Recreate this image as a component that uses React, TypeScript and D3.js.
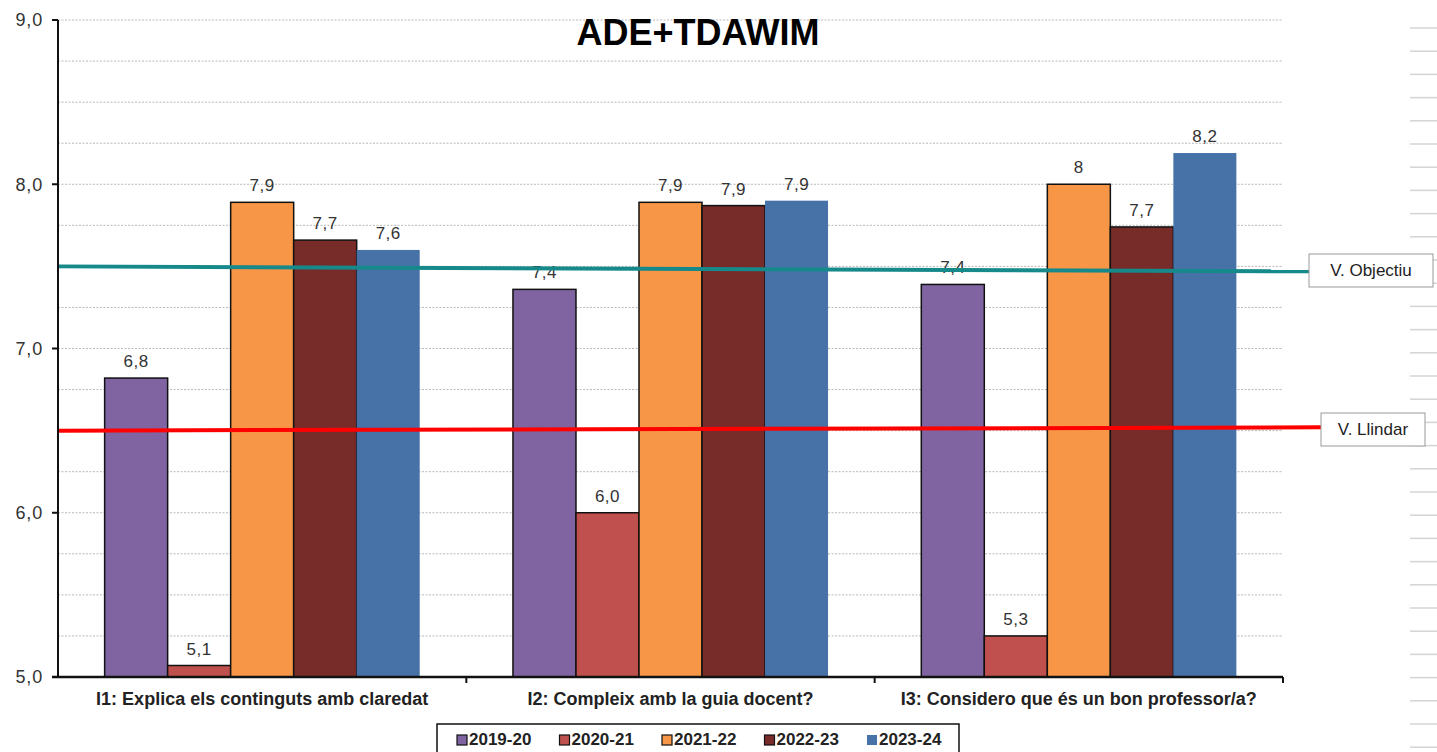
import React from "react";
import * as d3 from "d3";

const categories = [
  "I1: Explica els continguts amb claredat",
  "I2: Compleix amb la guia docent?",
  "I3: Considero que és un bon professor/a?",
];
const seriesNames = ["2019-20", "2020-21", "2021-22", "2022-23", "2023-24"];
const seriesColors = ["#8064A2", "#C0504D", "#F79646", "#772C2A", "#4672A8"];
const seriesBorder = [true, true, true, true, false];
const values2019 = [6.82, 7.36, 7.39];
const values2020 = [5.07, 6.0, 5.25];
const values2021 = [7.89, 7.89, 8.0];
const values2022 = [7.66, 7.87, 7.74];
const values2023 = [7.6, 7.9, 8.19];
const labels2019 = ["6,8", "7,4", "7,4"];
const labels2020 = ["5,1", "6,0", "5,3"];
const labels2021 = ["7,9", "7,9", "8"];
const labels2022 = ["7,7", "7,9", "7,7"];
const labels2023 = ["7,6", "7,9", "8,2"];
const yTicks = [5, 6, 7, 8, 9];
const objectiveLine = [7.5, 7.47];
const thresholdLine = [6.5, 6.52];
const objectiveLabel = "V. Objectiu";
const thresholdLabel = "V. Llindar";
const title = "ADE+TDAWIM";

const W = 1437;
const H = 752;
const FONT = "'Liberation Sans', Arial, sans-serif";

export default function App() {
  const values = [values2019, values2020, values2021, values2022, values2023];
  const labels = [labels2019, labels2020, labels2021, labels2022, labels2023];
  const left = 58, right = 1283, top = 20, bottom = 677;
  const y = d3.scaleLinear().domain([5, 9]).range([bottom, top]);
  const x0 = d3.scaleBand<string>().domain(categories).range([left, right]).padding(0);
  const x1 = d3
    .scaleBand<string>()
    .domain(seriesNames)
    .range([0, x0.bandwidth()])
    .paddingInner(0)
    .paddingOuter(0.74);
  const minor = d3.range(5.25, 9.001, 0.25);
  const fmt = d3.format(".1f");
  const decoY = d3.range(28, H, 23.2);

  const objBoxX = 1309, llBoxX = 1321;

  return (
    <svg
      width={W}
      height={H}
      style={{ position: "absolute", left: 0, top: 0, background: "#fff" }}
      fontFamily={FONT}
    >
      <rect x={0} y={0} width={W} height={H} fill="#fff" />
      {decoY.map((d, i) => (
        <line key={"dc" + i} x1={1410} x2={1437} y1={d} y2={d} stroke="#d4d4d4" strokeWidth={1.5} />
      ))}
      {minor.map((v, i) => (
        <line
          key={"g" + i}
          x1={left}
          x2={right}
          y1={y(v)}
          y2={y(v)}
          stroke="#b8b8b8"
          strokeWidth={1}
          strokeDasharray="2,1.5"
        />
      ))}
      {categories.map((c, ci) => (
        <g key={c} transform={`translate(${x0(c)},0)`}>
          {seriesNames.map((s, si) => {
            const v = values[si][ci];
            const bx = x1(s)!;
            return (
              <g key={s}>
                <rect
                  x={bx}
                  y={y(v)}
                  width={x1.bandwidth()}
                  height={bottom - y(v)}
                  fill={seriesColors[si]}
                  stroke={seriesBorder[si] ? "#111" : "none"}
                  strokeWidth={1.5}
                />
                <text
                  x={bx + x1.bandwidth() / 2}
                  y={y(v) - 11}
                  textAnchor="middle"
                  fontSize={17}
                  letterSpacing={0.5}
                  fill="#333"
                >
                  {labels[si][ci]}
                </text>
              </g>
            );
          })}
        </g>
      ))}
      <line x1={left} x2={objBoxX} y1={y(objectiveLine[0])} y2={y(objectiveLine[1])} stroke="#16898A" strokeWidth={4} />
      <line x1={left} x2={llBoxX} y1={y(thresholdLine[0])} y2={y(thresholdLine[1])} stroke="#FF0000" strokeWidth={4} />
      <rect x={objBoxX} y={254} width={124} height={33} fill="#fff" stroke="#999" strokeWidth={1} />
      <text x={objBoxX + 62} y={276} textAnchor="middle" fontSize={17} fill="#222">
        {objectiveLabel}
      </text>
      <rect x={llBoxX} y={413} width={104} height={33} fill="#fff" stroke="#999" strokeWidth={1} />
      <text x={llBoxX + 52} y={435} textAnchor="middle" fontSize={17} fill="#222">
        {thresholdLabel}
      </text>
      <line x1={left} x2={left} y1={top} y2={bottom} stroke="#111" strokeWidth={2} />
      {yTicks.map((t) => (
        <g key={"t" + t}>
          <line x1={left - 6} x2={left} y1={y(t)} y2={y(t)} stroke="#111" strokeWidth={2} />
          <text
            x={43}
            y={y(t)}
            dy="0.35em"
            textAnchor="end"
            fontSize={18}
            letterSpacing={0.8}
            fill="#333"
          >
            {fmt(t).replace(".", ",")}
          </text>
        </g>
      ))}
      <line x1={left - 6} x2={right} y1={bottom} y2={bottom} stroke="#111" strokeWidth={2.5} />
      {categories.map((c) => (
        <line
          key={"xt" + c}
          x1={x0(c)! + x0.bandwidth()}
          x2={x0(c)! + x0.bandwidth()}
          y1={bottom}
          y2={bottom + 6}
          stroke="#111"
          strokeWidth={2}
        />
      ))}
      {categories.map((c) => (
        <text
          key={"xl" + c}
          x={x0(c)! + x0.bandwidth() / 2}
          y={705}
          textAnchor="middle"
          fontSize={18}
          fontWeight="bold"
          fill="#222"
        >
          {c}
        </text>
      ))}
      <text x={698} y={45} textAnchor="middle" fontSize={36} fontWeight="bold" fill="#000">
        {title}
      </text>
      <rect x={437} y={724} width={522} height={40} fill="#fff" stroke="#111" strokeWidth={1.5} />
      {seriesNames.map((s, i) => {
        const lx = 457 + i * 102.5;
        return (
          <g key={"lg" + s}>
            <rect
              x={lx}
              y={735}
              width={10}
              height={10}
              fill={seriesColors[i]}
              stroke={seriesBorder[i] ? "#111" : "none"}
              strokeWidth={1.2}
            />
            <text x={lx + 12} y={745} fontSize={17} fontWeight="bold" fill="#222">
              {s}
            </text>
          </g>
        );
      })}
    </svg>
  );
}
